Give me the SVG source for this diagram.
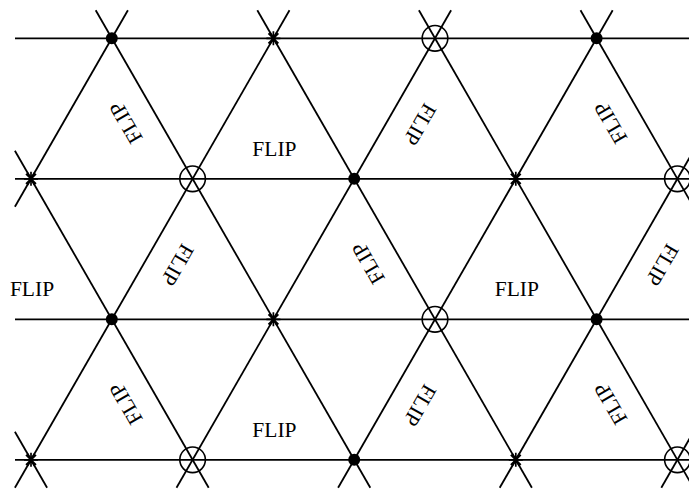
<svg xmlns="http://www.w3.org/2000/svg" xmlns:xlink="http://www.w3.org/1999/xlink" width="689" height="489" viewBox="0 0 689 489">
<style>
.ln{stroke:#000;stroke-width:1.8;fill:none;stroke-linecap:butt}
.lbl{font-family:"Liberation Serif","Times New Roman",serif;font-size:21.5px;fill:#000;text-anchor:middle}
</style>
<defs>
<circle id="dot" r="6" fill="#000"/>
<circle id="ring" r="12.8" fill="none" stroke="#000" stroke-width="1.6"/>
<path id="star" d="M-7,0H7M0,-7V7M-5,-5L5,5M-5,5L5,-5M-3.5,-6.1L3.5,6.1M-3.5,6.1L3.5,-6.1" stroke="#000" stroke-width="1.7" fill="none"/>
<g id="flip"><text class="lbl" x="1" y="24">FLIP</text></g>
</defs>
<rect width="689" height="489" fill="#fff"/>
<g id="connectors" class="ln">
<line x1="15" y1="38.3" x2="689" y2="38.3"/>
<line x1="15" y1="178.8" x2="689" y2="178.8"/>
<line x1="15" y1="319.3" x2="689" y2="319.3"/>
<line x1="15" y1="459.8" x2="689" y2="459.8"/>
<line x1="127.9" y1="10.3" x2="14.9" y2="206.8"/>
<line x1="289.5" y1="10.3" x2="14.9" y2="487.8"/>
<line x1="451.1" y1="10.3" x2="176.5" y2="487.8"/>
<line x1="612.7" y1="10.3" x2="338.1" y2="487.8"/>
<line x1="693.5" y1="150.8" x2="499.7" y2="487.8"/>
<line x1="693.5" y1="431.8" x2="661.3" y2="487.8"/>
<line x1="14.9" y1="431.8" x2="47.1" y2="487.8"/>
<line x1="14.9" y1="150.8" x2="208.7" y2="487.8"/>
<line x1="95.7" y1="10.3" x2="370.3" y2="487.8"/>
<line x1="257.3" y1="10.3" x2="531.9" y2="487.8"/>
<line x1="418.9" y1="10.3" x2="693.5" y2="487.8"/>
<line x1="580.5" y1="10.3" x2="693.5" y2="206.8"/>
</g>
<g id="v-r0-1"><use xlink:href="#dot" x="111.8" y="38.3"/></g>
<g id="v-r0-3"><use xlink:href="#star" x="273.4" y="38.3"/></g>
<g id="v-r0-5"><use xlink:href="#ring" x="435" y="38.3"/></g>
<g id="v-r0-7"><use xlink:href="#dot" x="596.6" y="38.3"/></g>
<g id="v-r1-0"><use xlink:href="#star" x="31" y="178.8"/></g>
<g id="v-r1-2"><use xlink:href="#ring" x="192.6" y="178.8"/></g>
<g id="v-r1-4"><use xlink:href="#dot" x="354.2" y="178.8"/></g>
<g id="v-r1-6"><use xlink:href="#star" x="515.8" y="178.8"/></g>
<g id="v-r1-8"><use xlink:href="#ring" x="677.4" y="178.8"/></g>
<g id="v-r2-1"><use xlink:href="#dot" x="111.8" y="319.3"/></g>
<g id="v-r2-3"><use xlink:href="#star" x="273.4" y="319.3"/></g>
<g id="v-r2-5"><use xlink:href="#ring" x="435" y="319.3"/></g>
<g id="v-r2-7"><use xlink:href="#dot" x="596.6" y="319.3"/></g>
<g id="v-r3-0"><use xlink:href="#star" x="31" y="459.8"/></g>
<g id="v-r3-2"><use xlink:href="#ring" x="192.6" y="459.8"/></g>
<g id="v-r3-4"><use xlink:href="#dot" x="354.2" y="459.8"/></g>
<g id="v-r3-6"><use xlink:href="#star" x="515.8" y="459.8"/></g>
<g id="v-r3-8"><use xlink:href="#ring" x="677.4" y="459.8"/></g>
<g id="t-b0-1" transform="translate(111.8,131.97) rotate(-120)"><use xlink:href="#flip"/></g>
<g id="t-b0-3" transform="translate(273.4,131.97)"><use xlink:href="#flip"/></g>
<g id="t-b0-5" transform="translate(435,131.97) rotate(120)"><use xlink:href="#flip"/></g>
<g id="t-b0-7" transform="translate(596.6,131.97) rotate(-120)"><use xlink:href="#flip"/></g>
<g id="t-b1-0" transform="translate(31,272.47)"><use xlink:href="#flip"/></g>
<g id="t-b1-2" transform="translate(192.6,272.47) rotate(120)"><use xlink:href="#flip"/></g>
<g id="t-b1-4" transform="translate(354.2,272.47) rotate(-120)"><use xlink:href="#flip"/></g>
<g id="t-b1-6" transform="translate(515.8,272.47)"><use xlink:href="#flip"/></g>
<g id="t-b1-8" transform="translate(677.4,272.47) rotate(120)"><use xlink:href="#flip"/></g>
<g id="t-b2-1" transform="translate(111.8,412.97) rotate(-120)"><use xlink:href="#flip"/></g>
<g id="t-b2-3" transform="translate(273.4,412.97)"><use xlink:href="#flip"/></g>
<g id="t-b2-5" transform="translate(435,412.97) rotate(120)"><use xlink:href="#flip"/></g>
<g id="t-b2-7" transform="translate(596.6,412.97) rotate(-120)"><use xlink:href="#flip"/></g>
</svg>
